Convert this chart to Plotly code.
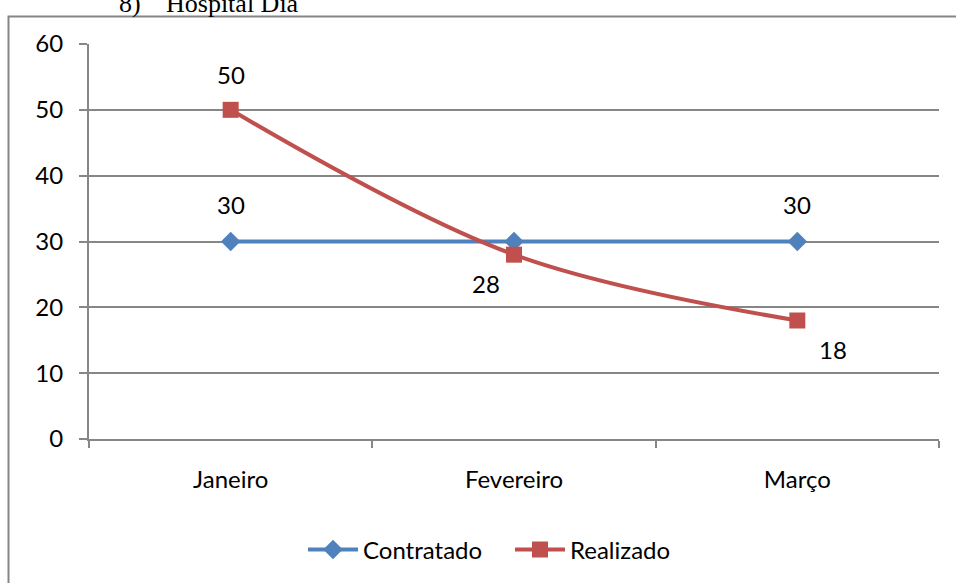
import plotly.graph_objects as go

categories = ["Janeiro", "Fevereiro", "Março"]
contratado = [30, 30, 30]
realizado = [50, 28, 18]
y_ticks = [0, 10, 20, 30, 40, 50, 60]

BLUE = "#4F81BD"
RED = "#C0504D"
GRID = "#868686"
FONT = "Lato, Carlito, Calibri, 'Open Sans', sans-serif"
FS = 24

W, H = 956, 583
L, R, T, B = 89, 17, 44, 143
pw, ph = W - L - R, H - T - B

def px_x(px):
    return (px - L) / pw

def px_y(py):
    return (H - B - py) / ph

fig = go.Figure()
fig.add_trace(go.Scatter(
    x=categories, y=contratado, name="Contratado", mode="lines+markers",
    line=dict(color=BLUE, width=4),
    marker=dict(symbol="diamond", size=15, color=BLUE),
))
fig.add_trace(go.Scatter(
    x=categories, y=realizado, name="Realizado", mode="lines+markers",
    line=dict(color=RED, width=4, shape="spline", smoothing=1),
    marker=dict(symbol="square", size=16, color=RED),
))

# data labels
label_specs = [
    (categories[0], contratado[0], 0, 37),
    (categories[2], contratado[2], 0, 37),
    (categories[0], realizado[0], 0, 35),
    (categories[1], realizado[1], -28, -29),
    (categories[2], realizado[2], 36, -29),
]
annotations = []
for cx, cy, dx, dy in label_specs:
    annotations.append(dict(
        x=cx, y=cy, xref="x", yref="y", text=str(cy), showarrow=False,
        xshift=dx, yshift=dy, font=dict(family=FONT, size=FS, color="black"),
    ))

# cropped heading above the chart
SERIF = "'Liberation Serif', 'Times New Roman', serif"
annotations.append(dict(
    x=px_x(117), y=px_y(20), xref="paper", yref="paper", text="8)",
    showarrow=False, xanchor="left", yanchor="bottom",
    font=dict(family=SERIF, size=26, color="black"),
))
annotations.append(dict(
    x=px_x(164), y=px_y(20), xref="paper", yref="paper", text="Hospital Dia",
    showarrow=False, xanchor="left", yanchor="bottom",
    font=dict(family=SERIF, size=26, color="black"),
))

fig.update_layout(
    width=W, height=H,
    margin=dict(l=L, r=R, t=T, b=B, pad=0),
    paper_bgcolor="white", plot_bgcolor="white",
    font=dict(family=FONT, size=FS, color="black"),
    showlegend=True,
    legend=dict(orientation="h", x=px_x(303), xanchor="left", y=px_y(550), yanchor="middle",
                font=dict(family=FONT, size=FS), itemwidth=50, entrywidth=142,
                entrywidthmode="pixels", tracegroupgap=0),
    annotations=annotations,
    shapes=[dict(type="rect", xref="paper", yref="paper",
                 x0=px_x(8.5), x1=px_x(962), y0=px_y(590), y1=px_y(16.5),
                 line=dict(color=GRID, width=2), layer="below")],
    xaxis=dict(
        type="category", range=[-0.5, 2.5], showgrid=False,
        showline=True, linecolor=GRID, linewidth=2,
        ticks="outside", ticklen=7, tickcolor=GRID, tickwidth=2, tickson="boundaries",
        ticklabelstandoff=18, tickfont=dict(family=FONT, size=FS),
        zeroline=False,
    ),
    yaxis=dict(
        range=[0, 60], tickvals=y_ticks, showgrid=True, gridcolor=GRID, gridwidth=2,
        showline=True, linecolor=GRID, linewidth=2,
        ticks="outside", ticklen=8, tickcolor=GRID, tickwidth=2,
        ticklabelstandoff=11, tickfont=dict(family=FONT, size=FS),
        zeroline=False,
    ),
)

fig.write_html("out.html")
